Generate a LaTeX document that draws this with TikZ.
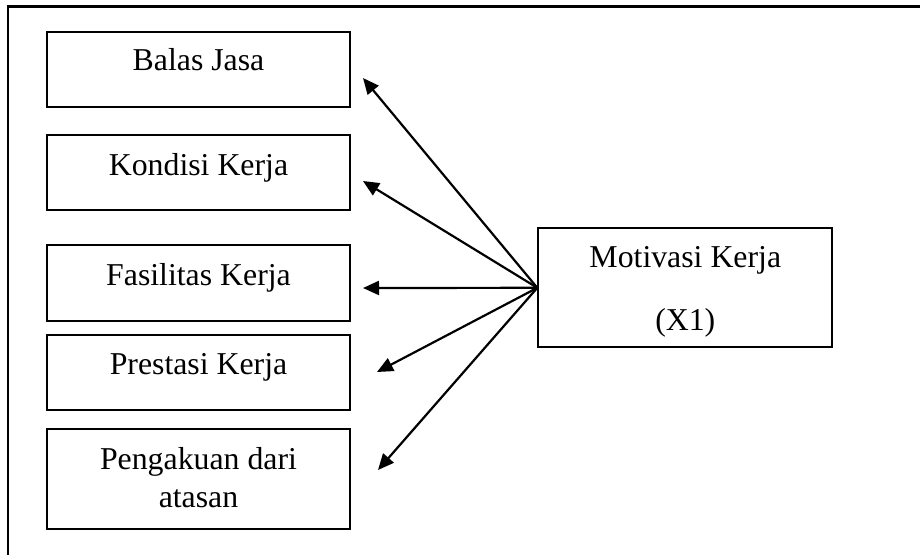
\documentclass[tikz,border=0pt]{standalone}
\usepackage{fontspec}
\setmainfont{Liberation Serif}
\usetikzlibrary{arrows.meta,calc}
\begin{document}
\begin{tikzpicture}[x=1pt,y=-1pt,
  frame/.style={line width=2.2pt},
  box/.style={draw,line width=2pt,inner sep=0pt,minimum width=303pt,minimum height=75pt},
  caption/.style={font=\fontsize{31.8}{38}\selectfont,inner sep=0pt,anchor=base,align=center},
  link/.style={line width=2.2pt,-{Triangle[length=16pt,width=14pt]}}]
  \useasboundingbox (0,0) rectangle (920,555);
  % open outer frame (top and left edges)
  \draw[frame] (920,6.5) -| (8,555);

  % factor boxes
  \node[box] (b1) at (198.5,69.2) {};
  \node[box] (b2) at (198.5,172.5) {};
  \node[box,minimum height=76pt] (b3) at (198.5,283) {};
  \node[box] (b4) at (198.5,372.5) {};
  \node[box,minimum height=100pt] (b5) at (198.5,479) {};
  % captions sit on the baseline of their last line
  \node[caption] (t1) at ($(b1.north)+(0,40)$) {Balas Jasa};
  \node[caption] (t2) at ($(b2.north)+(0,41.5)$) {Kondisi Kerja};
  \node[caption] (t3) at ($(b3.north)+(0,41.5)$) {Fasilitas Kerja};
  \node[caption] (t4) at ($(b4.north)+(0,40)$) {Prestasi Kerja};
  \node[caption] (t5) at ($(b5.north)+(0,79)$) {Pengakuan dari\\atasan};

  % main variable
  \node[box,minimum width=294pt,minimum height=119pt] (m) at (685.3,287.8) {};
  \node[caption] (tm) at ($(m.north)+(0,103.4)$) {Motivasi Kerja\\[25pt](X1)};

  % arrow tips
  \coordinate (a1) at (363,78);
  \coordinate (a2) at (363,181);
  \coordinate (a3) at (363,288);
  \coordinate (a4) at (377,372);
  \coordinate (a5) at (378,470);
  \foreach \i in {1,...,5} \draw[link] (m.west) -- (a\i);
\end{tikzpicture}
\end{document}
